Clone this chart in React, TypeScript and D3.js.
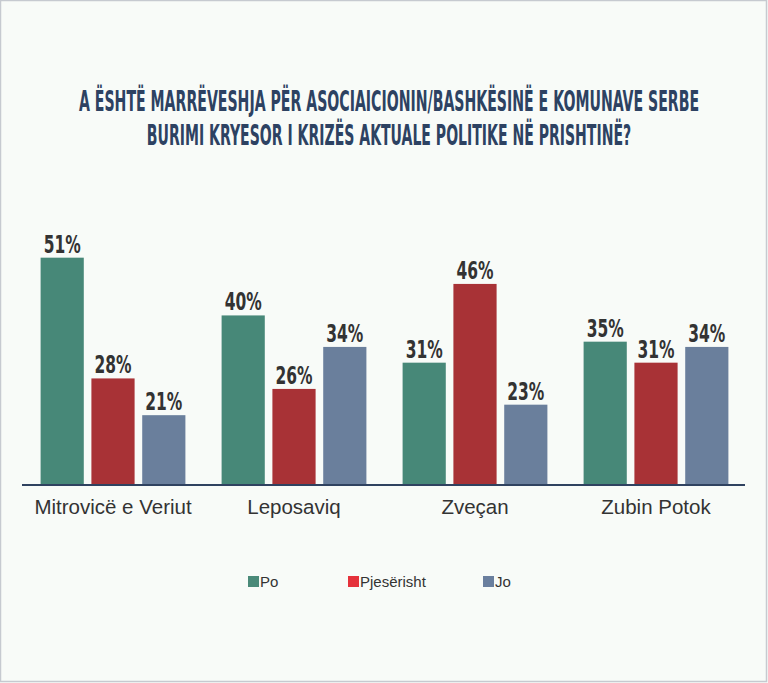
import React, { useLayoutEffect, useRef, useState } from "react";
import * as d3 from "d3";

const titleLines = [
  "A ËSHTË MARRËVESHJA PËR ASOCIAICIONIN/BASHKËSINË E KOMUNAVE SERBE",
  "BURIMI KRYESOR I KRIZËS AKTUALE POLITIKE NË PRISHTINË?",
];
const categories = ["Mitrovicë e Veriut", "Leposaviq", "Zveçan", "Zubin Potok"];
const seriesNames = ["Po", "Pjesërisht", "Jo"];
const poValues = [51, 40, 31, 35];
const pjeseristhValues = [28, 26, 46, 31];
const joValues = [21, 34, 23, 34];
const seriesValues = [poValues, pjeseristhValues, joValues];
const barColors = ["#478878", "#a83236", "#6a7f9c"];
const legendColors = ["#4a8a79", "#e5323b", "#6a7f9e"];

const W = 768;
const H = 683;
const baseY = 485;
const condensed = "'DejaVu Sans Condensed', 'DejaVu Sans', sans-serif";
const sans = "'Liberation Sans', Arial, sans-serif";

function FitText(props: {
  x: number;
  y: number;
  width: number;
  fontSize: number;
  fill: string;
  children: string;
}) {
  const ref = useRef<SVGTextElement>(null);
  const [sx, setSx] = useState(0.7);
  useLayoutEffect(() => {
    if (ref.current) {
      const w = ref.current.getComputedTextLength();
      if (w > 0) setSx(props.width / w);
    }
  }, [props.width, props.children]);
  return (
    <text
      ref={ref}
      transform={`translate(${props.x},${props.y}) scale(${sx},1)`}
      textAnchor="middle"
      fontFamily={condensed}
      fontWeight="bold"
      fontSize={props.fontSize}
      fill={props.fill}
    >
      {props.children}
    </text>
  );
}

export default function App() {
  const x0 = d3
    .scaleBand<string>()
    .domain(categories)
    .range([22.5, 746.5])
    .paddingInner(0.2)
    .paddingOuter(0.1);
  const x1 = d3
    .scaleBand<string>()
    .domain(seriesNames)
    .range([0, x0.bandwidth()])
    .paddingInner(0.15);
  const y = d3.scaleLinear().domain([7.7, 60]).range([baseY, baseY - 5.25 * 52.3]);

  const legendX = [248, 348, 483];

  return (
    <svg
      width={W}
      height={H}
      style={{ position: "absolute", left: 0, top: 0, display: "block" }}
    >
      <rect x={0} y={0} width={W} height={H} fill="#f8fbf8" />
      <rect x={0.5} y={0.5} width={W - 2} height={H - 2} fill="none" stroke="#c6cad0" strokeWidth={1.5} />
      {titleLines.map((t, i) => (
        <FitText key={i} x={389} y={111 + i * 34} width={i === 0 ? 620 : 484} fontSize={27.5} fill="#2d4262">
          {t}
        </FitText>
      ))}
      {categories.map((c, ci) => (
        <g key={c} transform={`translate(${x0(c)},0)`}>
          {seriesNames.map((s, si) => {
            const v = seriesValues[si][ci];
            const bx = x1(s)!;
            const bw = x1.bandwidth();
            return (
              <g key={s}>
                <rect x={bx} y={y(v)} width={bw} height={baseY - y(v)} fill={barColors[si]} />
                <FitText x={bx + bw / 2} y={y(v) - 5} width={37} fontSize={25} fill="#333333">
                  {`${v}%`}
                </FitText>
              </g>
            );
          })}
          <text
            x={x0.bandwidth() / 2}
            y={514}
            textAnchor="middle"
            fontFamily={sans}
            fontSize={20.5}
            fill="#333333"
          >
            {c}
          </text>
        </g>
      ))}
      <line x1={22} x2={745} y1={baseY} y2={baseY} stroke="#2f4260" strokeWidth={2} />
      {seriesNames.map((s, i) => (
        <g key={s}>
          <rect x={legendX[i]} y={576} width={11} height={11} fill={legendColors[i]} />
          <text x={legendX[i] + 12} y={587} fontFamily={sans} fontSize={15} fill="#333333">
            {s}
          </text>
        </g>
      ))}
    </svg>
  );
}
